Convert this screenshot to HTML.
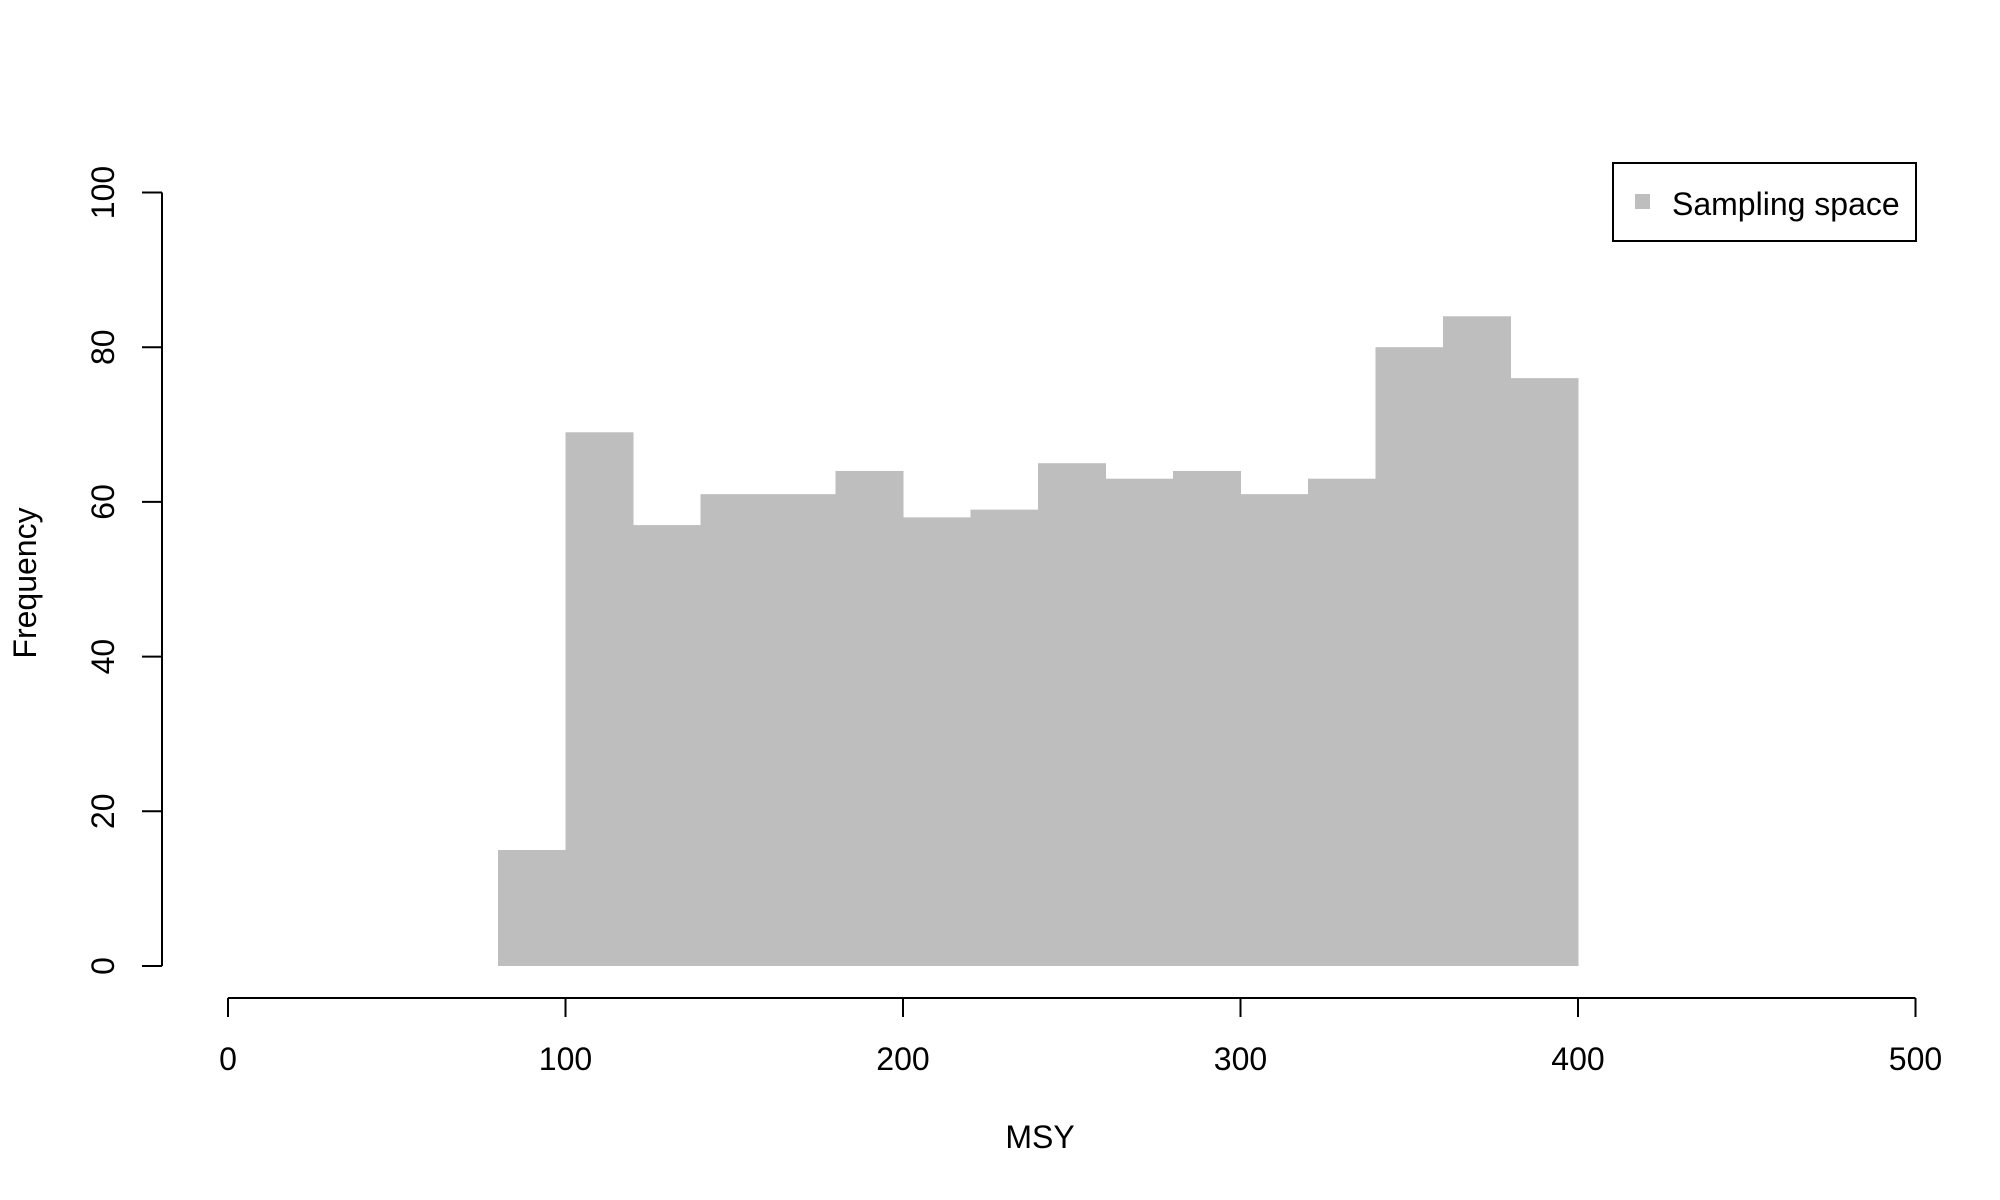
<!DOCTYPE html>
<html><head><meta charset="utf-8"><style>
html,body{margin:0;padding:0;background:#fff;}
svg{display:block;font-family:"Liberation Sans",Arial,sans-serif;}
</style></head><body>
<svg id="chart" width="2000" height="1200" viewBox="0 0 2000 1200" xmlns="http://www.w3.org/2000/svg">
<g id="bars"></g>
<g id="axes"></g>
<text x="1040" y="1148" font-size="32" text-anchor="middle">MSY</text>
<text x="0" y="0" font-size="32" text-anchor="middle" transform="translate(36,583) rotate(-90)">Frequency</text>
<g>
<rect x="1613" y="163" width="303" height="78" fill="#fff" stroke="#000" stroke-width="2"/>
<rect x="1635" y="194" width="15" height="15" fill="#bebebe"/>
<text x="1672" y="215" font-size="32">Sampling space</text>
</g>
</svg>
<script>
const binStarts=[80,100,120,140,160,180,200,220,240,260,280,300,320,340,360,380];
const counts=[15,69,57,61,61,64,58,59,65,63,64,61,63,80,84,76];
const binWidth=20;
const xTicks=[0,100,200,300,400,500];
const yTicks=[0,20,40,60,80,100];
const NS='http://www.w3.org/2000/svg';
function xs(v){return 228+v*(1915.5-228)/500;}
function ys(v){return 966-v*(966-192.5)/100;}
const bars=document.getElementById('bars');
binStarts.forEach((b,i)=>{
  const r=document.createElementNS(NS,'rect');
  
  
  const x0=xs(b),x1=xs(b+binWidth);
  r.setAttribute('x',x0);r.setAttribute('width',x1-x0+0.5);
  r.setAttribute('y',ys(counts[i]));r.setAttribute('height',ys(0)-ys(counts[i]));
  r.setAttribute('fill','#bebebe');
  bars.appendChild(r);
});
const axes=document.getElementById('axes');
function line(x1,y1,x2,y2,name){
  const l=document.createElementNS(NS,'line');
  
  
  l.setAttribute('x1',x1);l.setAttribute('y1',y1);l.setAttribute('x2',x2);l.setAttribute('y2',y2);
  l.setAttribute('stroke','#000');l.setAttribute('stroke-width','2');
  axes.appendChild(l);
}
function text(x,y,s,name,rot){
  const t=document.createElementNS(NS,'text');
  
  
  t.setAttribute('font-size','32');t.setAttribute('text-anchor','middle');
  if(rot){t.setAttribute('transform','translate('+x+','+y+') rotate(-90)');t.setAttribute('x',0);t.setAttribute('y',0);}
  else{t.setAttribute('x',x);t.setAttribute('y',y);}
  t.textContent=s;axes.appendChild(t);
}
line(xs(0),998,xs(500),998,'x-axis-line');
xTicks.forEach(v=>{line(xs(v),998,xs(v),1017,'x-tick');text(xs(v),1070,String(v),'x-tick-label',false);});
line(162,ys(0),162,ys(100),'y-axis-line');
yTicks.forEach(v=>{line(142,ys(v),162,ys(v),'y-tick');text(114,ys(v),String(v),'y-tick-label',true);});
</script>
</body></html>
